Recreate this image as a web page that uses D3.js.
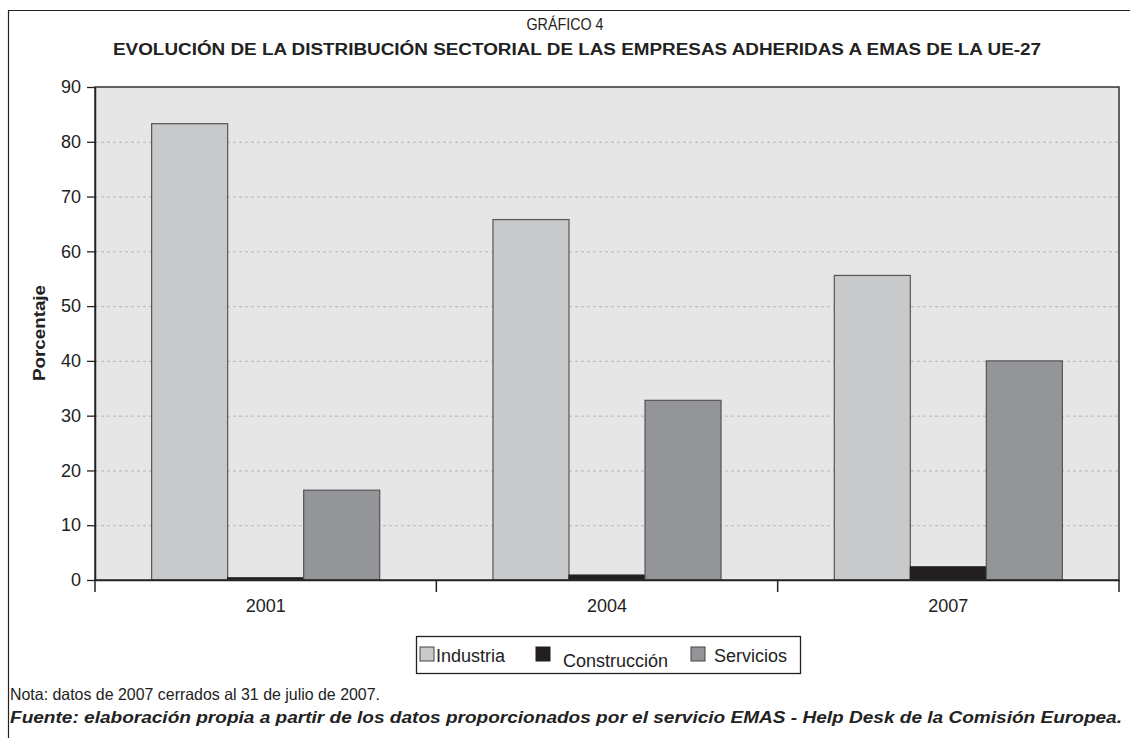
<!DOCTYPE html>
<html><head><meta charset="utf-8">
<script src="https://cdn.jsdelivr.net/npm/d3@7"></script>
<style>body{margin:0;background:#fff}svg{display:block;font-family:"Liberation Sans",Arial,sans-serif}</style>
</head><body><svg id="c" width="1130" height="738"></svg>
<script>
const years = ["2001","2004","2007"];
const seriesNames = ["Industria","Construcción","Servicios"];
const industria = [83.3, 65.8, 55.6];
const construccion = [0.4, 0.9, 2.4];
const servicios = [16.4, 32.8, 40.0];
const yTicks = [0,10,20,30,40,50,60,70,80,90];
const colors = ["#c8c9cb","#231f20","#939598"];

const svg = d3.select("#c");
const L=95,T=87,R=1119,B=580;
const x = d3.scaleBand().domain(years).range([L,R]).paddingInner(0).paddingOuter(0);
const xs = d3.scaleBand().domain(seriesNames).range([0,x.bandwidth()]).paddingInner(0).paddingOuter(0.745);
const y = d3.scaleLinear().domain([0,90]).range([B,T]);
const data = [industria, construccion, servicios];

// frame
svg.append("path").attr("d","M8.5,738 V10.5 H1130").attr("fill","none").attr("stroke","#222").attr("stroke-width",1.2);

// plot bg
svg.append("rect").attr("x",L).attr("y",T).attr("width",R-L).attr("height",B-T).attr("fill","#e6e6e6");
// grid
svg.append("g").selectAll("line").data(yTicks.filter(d=>d>0&&d<90)).join("line")
  .attr("x1",L).attr("x2",R).attr("y1",d=>y(d)+0.5).attr("y2",d=>y(d)+0.5)
  .attr("stroke","#b5b5b5").attr("stroke-dasharray","3,3").attr("stroke-width",1);

// bars
const g = svg.append("g");
years.forEach((yr,i)=>{
  seriesNames.forEach((s,j)=>{
    const v = data[j][i];
    g.append("rect").attr("x",x(yr)+xs(s)).attr("width",xs.bandwidth())
      .attr("y",y(v)).attr("height",y(0)-y(v)).attr("fill",colors[j])
      .attr("stroke",j===1?"#231f20":"#555").attr("stroke-width",1.2);
  });
});
// plot border
svg.append("rect").attr("x",L).attr("y",T).attr("width",R-L).attr("height",B-T).attr("fill","none").attr("stroke","#333").attr("stroke-width",1.5);

// y axis
const ya = svg.append("g").attr("transform",`translate(${L},0)`).call(d3.axisLeft(y).tickValues(yTicks).tickSize(8).tickSizeOuter(0));
ya.select(".domain").attr("stroke","#222").attr("stroke-width",1.5);
ya.selectAll(".tick line").attr("stroke","#222").attr("stroke-width",1.3);
ya.selectAll("text").attr("font-size",18).attr("fill","#222").attr("x",-14).attr("font-family","Liberation Sans, Arial");

// x axis
const xa = svg.append("g").attr("transform",`translate(0,${B})`).call(d3.axisBottom(x).tickSize(0).tickSizeOuter(0));
xa.select(".domain").attr("stroke","#222").attr("stroke-width",1.5);
xa.selectAll("text").attr("font-size",18).attr("fill","#222").attr("dy","1.6em");
const bounds = [x(years[0]), ...years.map(d=>x(d)+x.bandwidth())];
svg.append("g").selectAll("line").data(bounds).join("line")
  .attr("x1",d=>d).attr("x2",d=>d).attr("y1",B).attr("y2",B+12).attr("stroke","#222").attr("stroke-width",1.5);

// titles
svg.append("text").attr("x",565).attr("y",30).attr("text-anchor","middle").attr("font-size",16.5).attr("fill","#222")
  .attr("textLength",77).attr("lengthAdjust","spacingAndGlyphs").text("GRÁFICO 4");
svg.append("text").attr("x",577).attr("y",55).attr("text-anchor","middle").attr("font-size",16).attr("font-weight","bold").attr("fill","#222")
  .attr("textLength",928).attr("lengthAdjust","spacingAndGlyphs").text("EVOLUCIÓN DE LA DISTRIBUCIÓN SECTORIAL DE LAS EMPRESAS ADHERIDAS A EMAS DE LA UE-27");

// y label
svg.append("text").attr("transform","translate(45,333) rotate(-90)").attr("text-anchor","middle").attr("font-size",17).attr("font-weight","bold").attr("fill","#222")
  .attr("textLength",96).attr("lengthAdjust","spacingAndGlyphs").text("Porcentaje");

// legend
svg.append("rect").attr("x",416.5).attr("y",636.5).attr("width",384).attr("height",37).attr("fill","#fff").attr("stroke","#222").attr("stroke-width",1.3);
const legX = [{sx:420,tx:436},{sx:536,tx:563},{sx:691,tx:714}];
seriesNames.forEach((s,j)=>{
  svg.append("rect").attr("x",legX[j].sx).attr("y",647).attr("width",14).attr("height",14).attr("fill",colors[j]).attr("stroke",j===1?"#231f20":"#444").attr("stroke-width",1);
  svg.append("text").attr("x",legX[j].tx).attr("y",j===1?667:662).attr("font-size",18).attr("fill","#222").text(s);
});

// footer
svg.append("text").attr("x",10).attr("y",700).attr("font-size",16.5).attr("fill","#222")
  .attr("textLength",370).attr("lengthAdjust","spacingAndGlyphs").text("Nota: datos de 2007 cerrados al 31 de julio de 2007.");
svg.append("text").attr("x",10).attr("y",723).attr("font-size",16).attr("font-weight","bold").attr("font-style","italic").attr("fill","#222")
  .attr("textLength",1112).attr("lengthAdjust","spacingAndGlyphs").text("Fuente: elaboración propia a partir de los datos proporcionados por el servicio EMAS - Help Desk de la Comisión Europea.");
</script></body></html>
